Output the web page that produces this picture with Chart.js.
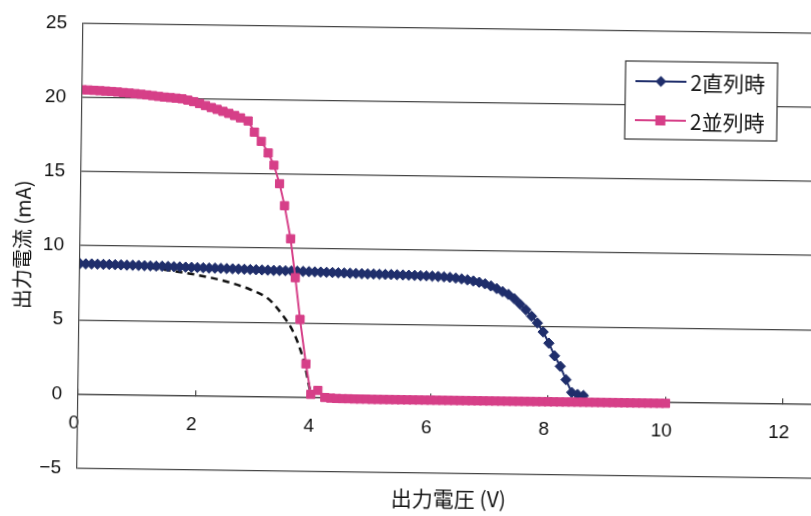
<!DOCTYPE html>
<html lang="ja">
<head>
<meta charset="utf-8">
<title>出力電圧と出力電流</title>
<script src="https://cdn.jsdelivr.net/npm/chart.js@4.4.1/dist/chart.umd.min.js"></script>
<style>
  html, body { margin: 0; padding: 0; background: #fff; overflow: hidden; }
  /* the scanned original is turned a little clockwise */
  #wrap { position: absolute; left: 0; top: 0; width: 830px; height: 516px;
          transform-origin: 405.5px 258px; transform: rotate(0.78deg); }
</style>
</head>
<body>
<div id="wrap"><canvas id="ivChart" width="830" height="516"></canvas></div>
<script>
// 2直列時 : 出力電圧 (V) / 出力電流 (mA)
const seriesV = [
  0.0, 0.1, 0.2, 0.3, 0.4, 0.5, 0.6, 0.7, 0.8, 0.9, 1.0,
  1.1, 1.2, 1.3, 1.4, 1.5, 1.6, 1.7, 1.8, 1.9, 2.0,
  2.1, 2.2, 2.3, 2.4, 2.5, 2.6, 2.7, 2.8, 2.9, 3.0,
  3.1, 3.2, 3.3, 3.4, 3.5, 3.6, 3.7, 3.8, 3.9, 4.0,
  4.1, 4.2, 4.3, 4.4, 4.5, 4.6, 4.7, 4.8, 4.9, 5.0,
  5.1, 5.2, 5.3, 5.4, 5.5, 5.6, 5.7, 5.8, 5.9, 6.0,
  6.1, 6.2, 6.3, 6.4, 6.5, 6.6, 6.7, 6.8, 6.9, 7.0,
  7.1, 7.2, 7.3, 7.4, 7.5, 7.6, 7.7, 7.8, 7.9, 8.0,
  8.1, 8.2, 8.3, 8.4, 8.5, 8.6
];
const seriesI = [
  8.78, 8.77, 8.77, 8.76, 8.75, 8.75, 8.74, 8.73, 8.72, 8.72, 8.71,
  8.70, 8.69, 8.68, 8.68, 8.67, 8.66, 8.65, 8.64, 8.63, 8.62,
  8.61, 8.60, 8.60, 8.59, 8.58, 8.57, 8.56, 8.55, 8.54, 8.53,
  8.52, 8.51, 8.50, 8.50, 8.49, 8.48, 8.47, 8.46, 8.45, 8.44,
  8.43, 8.42, 8.41, 8.40, 8.39, 8.38, 8.37, 8.36, 8.35, 8.35,
  8.34, 8.33, 8.33, 8.32, 8.31, 8.30, 8.29, 8.28, 8.27, 8.26,
  8.24, 8.22, 8.19, 8.15, 8.10, 8.04, 7.97, 7.89, 7.79, 7.65,
  7.48, 7.28, 7.10, 6.82, 6.45, 6.08, 5.65, 5.20, 4.60, 3.85,
  3.00, 2.30, 1.40, 0.55, 0.42, 0.35
];

// 2並列時
const parallelV = [
  0.0, 0.1, 0.2, 0.3, 0.4, 0.5, 0.6, 0.7, 0.8, 0.9, 1.0,
  1.1, 1.2, 1.3, 1.4, 1.5, 1.6, 1.7, 1.8, 1.9, 2.0,
  2.1, 2.2, 2.3, 2.4, 2.5, 2.6, 2.7,
  2.83, 2.94, 3.06, 3.18, 3.28, 3.38, 3.47, 3.58, 3.67, 3.76, 3.87, 3.96, 4.08,
  4.2, 4.3, 4.4, 4.5, 4.6, 4.7, 4.8, 4.9, 5.0,
  5.1, 5.2, 5.3, 5.4, 5.5, 5.6, 5.7, 5.8, 5.9, 6.0,
  6.1, 6.2, 6.3, 6.4, 6.5, 6.6, 6.7, 6.8, 6.9, 7.0,
  7.1, 7.2, 7.3, 7.4, 7.5, 7.6, 7.7, 7.8, 7.9, 8.0,
  8.1, 8.2, 8.3, 8.4, 8.5, 8.6, 8.7, 8.8, 8.9, 9.0,
  9.1, 9.2, 9.3, 9.4, 9.5, 9.6, 9.7, 9.8, 9.9, 10.0
];
const parallelI = [
  20.50, 20.49, 20.47, 20.45, 20.43, 20.41, 20.38, 20.35, 20.32, 20.29, 20.25,
  20.21, 20.17, 20.12, 20.08, 20.05, 20.02, 19.98, 19.90, 19.80, 19.68,
  19.55, 19.42, 19.30, 19.17, 19.04, 18.90, 18.75,
  18.55, 17.80, 17.19, 16.41, 15.59, 14.35, 12.87, 10.65, 8.03, 5.22, 2.23, 0.18, 0.45,
  -0.02, -0.05, -0.07, -0.08, -0.08, -0.09, -0.09, -0.09, -0.10,
  -0.10, -0.10, -0.10, -0.10, -0.10, -0.10, -0.10, -0.10, -0.10, -0.10,
  -0.10, -0.10, -0.10, -0.10, -0.10, -0.10, -0.10, -0.10, -0.10, -0.10,
  -0.10, -0.10, -0.10, -0.10, -0.10, -0.10, -0.10, -0.10, -0.10, -0.10,
  -0.10, -0.10, -0.10, -0.10, -0.10, -0.10, -0.10, -0.10, -0.10, -0.10,
  -0.10, -0.10, -0.10, -0.10, -0.10, -0.10, -0.10, -0.10, -0.10, -0.10
];

// 破線（ラベルなし）
const dashedV = [0.0, 0.5, 1.0, 1.5, 2.0, 2.4, 2.9, 3.2, 3.35, 3.47, 3.58, 3.68, 3.77, 3.85, 3.92, 3.97];
const dashedI = [8.80, 8.76, 8.63, 8.42, 8.12, 7.80, 7.20, 6.62, 6.05, 5.45, 4.85, 4.10, 3.20, 2.20, 0.90, 0.10];

const xTicks = [0, 2, 4, 6, 8, 10, 12];
const yTicks = [-5, 0, 5, 10, 15, 20, 25];

const BLUE = '#1f2e6b';
const PINK = '#d63f88';
const GRID = '#454545';
const TEXT = '#111';
const JP_FONT = '"Noto Sans CJK JP", "Noto Sans", sans-serif';
const NUM_FONT = '"Liberation Sans", Arial, sans-serif';

function toPoints(xs, ys) {
    return xs.map((x, i) => ({ x: x, y: ys[i] }));
}

// 凡例（グラフ内の枠）
const legendBox = {
    id: 'legendBox',
    afterDraw(chart) {
        const c = chart.ctx;
        const left = 623, top = 58, w = 152, h = 78;
        c.save();
        c.fillStyle = '#fff';
        c.fillRect(left, top, w, h);
        c.strokeStyle = '#333';
        c.lineWidth = 1.2;
        c.strokeRect(left, top, w, h);

        const items = chart.data.datasets.filter(ds => ds.label);
        items.forEach((ds, i) => {
            const y = top + 20 + i * 39;
            const x1 = left + 10, x2 = left + 61, mx = (x1 + x2) / 2;
            c.strokeStyle = ds.borderColor;
            c.lineWidth = 2;
            c.beginPath();
            c.moveTo(x1, y);
            c.lineTo(x2, y);
            c.stroke();
            c.fillStyle = ds.borderColor;
            c.beginPath();
            if (ds.pointStyle === 'rectRot') {
                const r = 5.5;
                c.moveTo(mx - r, y);
                c.lineTo(mx, y - r);
                c.lineTo(mx + r, y);
                c.lineTo(mx, y + r);
                c.closePath();
            } else {
                c.rect(mx - 5, y - 5, 10, 10);
            }
            c.fill();
            c.fillStyle = TEXT;
            c.font = '21px ' + JP_FONT;
            c.textBaseline = 'middle';
            c.textAlign = 'left';
            c.fillText(ds.label, x2 + 4, y + 1);
        });
        c.restore();
    }
};

const ctx = document.getElementById('ivChart').getContext('2d');
const ivChart = new Chart(ctx, {
    type: 'line',
    data: {
        datasets: [
            {
                label: '2直列時',
                data: toPoints(seriesV, seriesI),
                borderColor: BLUE,
                backgroundColor: BLUE,
                borderWidth: 2,
                pointStyle: 'rectRot',
                pointRadius: 5.2,
                pointBorderWidth: 1,
                pointBackgroundColor: BLUE,
                pointBorderColor: BLUE,
                order: 2
            },
            {
                label: '2並列時',
                data: toPoints(parallelV, parallelI),
                borderColor: PINK,
                backgroundColor: PINK,
                borderWidth: 2,
                pointStyle: 'rect',
                pointRadius: 5.8,
                pointBorderWidth: 1,
                pointBackgroundColor: PINK,
                pointBorderColor: PINK,
                order: 1
            },
            {
                label: '',
                data: toPoints(dashedV, dashedI),
                borderColor: '#111',
                borderWidth: 2.5,
                borderDash: [7, 5],
                pointRadius: 0,
                cubicInterpolationMode: 'monotone',
                order: 3
            }
        ]
    },
    options: {
        responsive: false,
        animation: false,
        events: [],
        layout: { padding: { top: 23, left: 0, right: 0, bottom: 0 } },
        plugins: {
            legend: { display: false },
            tooltip: { enabled: false }
        },
        scales: {
            x: {
                type: 'linear',
                position: { y: 0 },
                min: 0,
                max: 12.65,
                afterBuildTicks(scale) {
                    scale.ticks = xTicks.map(v => ({ value: v }));
                },
                ticks: {
                    padding: 24,
                    labelOffset: -4,
                    color: TEXT,
                    font: { family: NUM_FONT, size: 19 }
                },
                grid: {
                    drawOnChartArea: false,
                    drawTicks: true,
                    tickLength: -6,
                    color: GRID,
                    lineWidth: 1.2
                },
                border: { display: true, color: GRID, width: 1.2 }
            },
            x2: {
                type: 'linear',
                position: 'bottom',
                min: 0,
                max: 1,
                ticks: { display: false },
                grid: { display: false },
                border: { display: false },
                title: {
                    display: true,
                    text: '出力電圧 (V)',
                    color: TEXT,
                    font: { family: JP_FONT, size: 21 },
                    padding: { top: 0, bottom: 5 }
                },
                afterFit(scale) {
                    scale.height = 43.5;
                }
            },
            y: {
                type: 'linear',
                min: -5,
                max: 25,
                afterBuildTicks(scale) {
                    scale.ticks = yTicks.map(v => ({ value: v }));
                },
                ticks: {
                    padding: 16,
                    color: TEXT,
                    font: { family: NUM_FONT, size: 19 },
                    callback: v => (v < 0 ? '\u2212' + Math.abs(v) : String(v))
                },
                grid: { color: GRID, lineWidth: 1.2, drawTicks: false },
                border: { display: true, color: GRID, width: 1.2 },
                title: {
                    display: true,
                    text: '出力電流 (mA)',
                    color: TEXT,
                    font: { family: JP_FONT, size: 20 },
                    padding: { top: 10, bottom: 0 }
                },
                afterFit(scale) {
                    scale.width = 80;
                }
            }
        }
    },
    plugins: [legendBox]
});
</script>
</body>
</html>
